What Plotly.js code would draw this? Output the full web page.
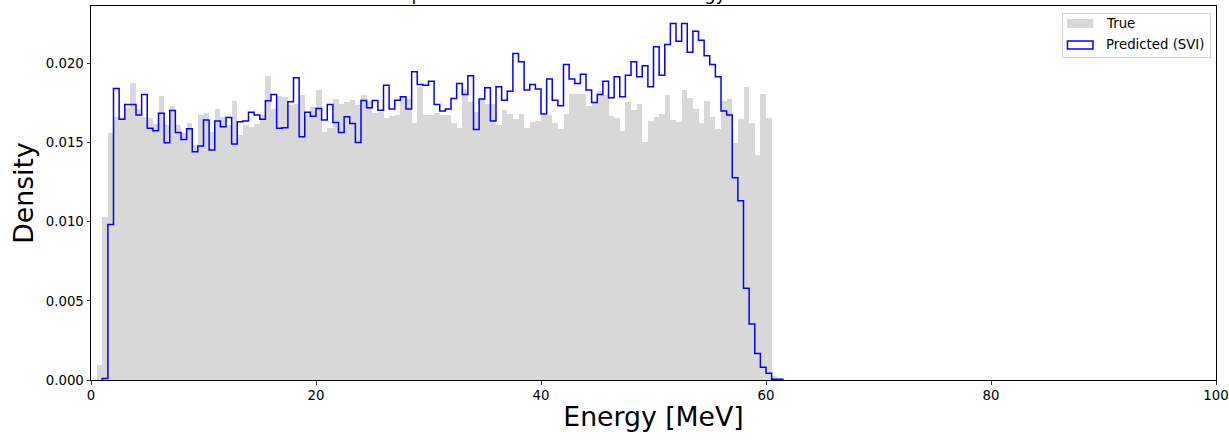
<!DOCTYPE html>
<html>
<head>
<meta charset="utf-8">
<script src="https://cdn.plot.ly/plotly-3.0.1.min.js"></script>
<style>html,body{margin:0;padding:0;background:#fff;}#chart{width:1229px;height:441px;}</style>
</head>
<body>
<div id="chart"></div>
<script>
// Histogram bins: width 0.5 MeV
const binWidth = 0.5;
// True energy density, first bin starts at 0.5 MeV
const trueStart = 0.5;
const trueDensity = [
  0.00095, 0.01032, 0.01562, 0.01663, 0.01663, 0.01720, 0.01874, 0.01710, 0.01660, 0.01653,
  0.01615, 0.01794, 0.01610, 0.01733, 0.01610, 0.01560, 0.01621, 0.01484, 0.01674, 0.01690,
  0.01568, 0.01712, 0.01663, 0.01610, 0.01762, 0.01547, 0.01610, 0.01600, 0.01615, 0.01674,
  0.01920, 0.01712, 0.01794, 0.01789, 0.01737, 0.01747, 0.01800, 0.01674, 0.01726, 0.01834,
  0.01570, 0.01590, 0.01775, 0.01741, 0.01754, 0.01768, 0.01737, 0.01800, 0.01762, 0.01684,
  0.01695, 0.01653, 0.01667, 0.01674, 0.01789, 0.01775, 0.01621, 0.01853, 0.01674, 0.01674,
  0.01684, 0.01674, 0.01674, 0.01621, 0.01594, 0.01838, 0.01754, 0.01695, 0.01775, 0.01741,
  0.01741, 0.01610, 0.01705, 0.01678, 0.01648, 0.01678, 0.01594, 0.01632, 0.01636, 0.01674,
  0.01674, 0.01621, 0.01585, 0.01678, 0.01804, 0.01804, 0.01804, 0.01733, 0.01754, 0.01825,
  0.01800, 0.01669, 0.01653, 0.01573, 0.01754, 0.01705, 0.01747, 0.01505, 0.01636, 0.01663,
  0.01678, 0.01800, 0.01642, 0.01632, 0.01832, 0.01779, 0.01712, 0.01621, 0.01764, 0.01659,
  0.01585, 0.01764, 0.01775, 0.01495, 0.01646, 0.01853, 0.01621, 0.01421, 0.01804, 0.01653,
  0.00025
];
// Predicted (SVI) energy density, first bin starts at 1.0 MeV
const predStart = 1.0;
const predDensity = [
  0.00010, 0.00983, 0.01842, 0.01648, 0.01741, 0.01741, 0.01674, 0.01804, 0.01590, 0.01575,
  0.01686, 0.01499, 0.01703, 0.01564, 0.01520, 0.01587, 0.01442, 0.01478, 0.01642, 0.01453,
  0.01636, 0.01600, 0.01659, 0.01491, 0.01632, 0.01636, 0.01691, 0.01674, 0.01648, 0.01764,
  0.01804, 0.01590, 0.01594, 0.01758, 0.01910, 0.01537, 0.01691, 0.01667, 0.01716, 0.01642,
  0.01741, 0.01627, 0.01564, 0.01663, 0.01621, 0.01501, 0.01766, 0.01720, 0.01766, 0.01705,
  0.01863, 0.01712, 0.01768, 0.01789, 0.01712, 0.01947, 0.01867, 0.01863, 0.01888, 0.01741,
  0.01699, 0.01712, 0.01779, 0.01874, 0.01804, 0.01922, 0.01583, 0.01775, 0.01846, 0.01636,
  0.01853, 0.01768, 0.01825, 0.02063, 0.02010, 0.01832, 0.01867, 0.01838, 0.01680, 0.01901,
  0.01768, 0.01733, 0.01994, 0.01901, 0.01874, 0.01931, 0.01832, 0.01754, 0.01804, 0.01888,
  0.01783, 0.01916, 0.01789, 0.01926, 0.02010, 0.01916, 0.01985, 0.01853, 0.02105, 0.01926,
  0.02120, 0.02253, 0.02141, 0.02253, 0.02070, 0.02204, 0.02147, 0.02048, 0.01994, 0.01916,
  0.01699, 0.01674, 0.01278, 0.01133, 0.00579, 0.00354, 0.00168, 0.00080, 0.00042, 0.00004,
  0.00004
];
const xTicks = [0, 20, 40, 60, 80, 100];
const yTicks = [0.000, 0.005, 0.010, 0.015, 0.020];
const titleText = 'Comparison of True vs Predicted Energy';
const xLabel = 'Energy [MeV]';
const yLabel = 'Density';
const legendLabels = ['True', 'Predicted (SVI)'];

// bar centres for the true histogram
const trueX = trueDensity.map((_, i) => trueStart + binWidth * (i + 0.5));
// step outline for predicted histogram
const stepX = [predStart];
const stepY = [0];
predDensity.forEach((v, i) => { stepX.push(predStart + binWidth * i); stepY.push(v); });
stepX.push(predStart + binWidth * predDensity.length);
stepY.push(0);

const font = 'DejaVu Sans, Liberation Sans, sans-serif';

const traces = [
  {
    type: 'bar', x: trueX, y: trueDensity, width: binWidth,
    marker: {color: '#d8d8d8', line: {width: 0}},
    name: legendLabels[0], showlegend: false, hoverinfo: 'x+y'
  },
  {
    type: 'scatter', mode: 'lines', x: stepX, y: stepY,
    line: {color: '#0000ff', width: 1.5, shape: 'hv'},
    name: legendLabels[1], showlegend: false
  }
];

// pixel helpers for the legend box (plot area: x 91..1216, y 6..380)
const px = v => (v - 91) / 1125;
const py = v => (380 - v) / 374;

const layout = {
  width: 1229, height: 441,
  margin: {l: 91, r: 13, t: 6, b: 61, pad: 0},
  paper_bgcolor: '#ffffff', plot_bgcolor: '#ffffff',
  font: {family: font, size: 13.3, color: '#000'},
  bargap: 0, barmode: 'overlay',
  showlegend: false,
  xaxis: {
    range: [0, 100], tickvals: xTicks, ticktext: xTicks.map(String),
    showgrid: false, zeroline: false,
    showline: true, linecolor: '#000', linewidth: 1, mirror: true,
    ticks: 'outside', ticklen: 3.5, tickwidth: 0.8, tickcolor: '#000',
    tickfont: {family: font, size: 13.3, color: '#000'},
    title: {text: xLabel, font: {family: font, size: 26.7, color: '#000'}, standoff: 4},
    automargin: false
  },
  yaxis: {
    range: [0, 0.02363], tickvals: yTicks, ticktext: yTicks.map(v => v.toFixed(3)),
    showgrid: false, zeroline: false,
    showline: true, linecolor: '#000', linewidth: 1, mirror: true,
    ticks: 'outside', ticklen: 3.5, tickwidth: 0.8, tickcolor: '#000',
    tickfont: {family: font, size: 13.3, color: '#000'},
    title: {text: yLabel, font: {family: font, size: 26.7, color: '#000'}, standoff: 4},
    automargin: false
  },
  shapes: [
    {type: 'rect', xref: 'paper', yref: 'paper', x0: px(1062.5), x1: px(1210.5), y0: py(57.5), y1: py(13.5),
     line: {color: '#d0d0d0', width: 1}, fillcolor: 'rgba(255,255,255,0.8)', layer: 'above'},
    {type: 'rect', xref: 'paper', yref: 'paper', x0: px(1067), x1: px(1093.5), y0: py(28), y1: py(19),
     line: {width: 0}, fillcolor: '#d8d8d8', layer: 'above'},
    {type: 'rect', xref: 'paper', yref: 'paper', x0: px(1067.5), x1: px(1093), y0: py(49), y1: py(41),
     line: {color: '#0000ff', width: 1.5}, fillcolor: '#ffffff', layer: 'above'}
  ],
  annotations: [
    {text: legendLabels[0], xref: 'paper', yref: 'paper', x: px(1104), y: py(24), xanchor: 'left', yanchor: 'middle',
     showarrow: false, font: {family: font, size: 13.3, color: '#000'}},
    {text: legendLabels[1], xref: 'paper', yref: 'paper', x: px(1104), y: py(45), xanchor: 'left', yanchor: 'middle',
     showarrow: false, font: {family: font, size: 13.3, color: '#000'}},
    {text: titleText, xref: 'paper', yref: 'paper', x: px(728), y: 1, xanchor: 'right', yanchor: 'bottom',
     showarrow: false, font: {family: font, size: 17.8, color: '#000'}}
  ]
};

Plotly.newPlot('chart', traces, layout, {staticPlot: true, displayModeBar: false});
</script>
</body>
</html>
